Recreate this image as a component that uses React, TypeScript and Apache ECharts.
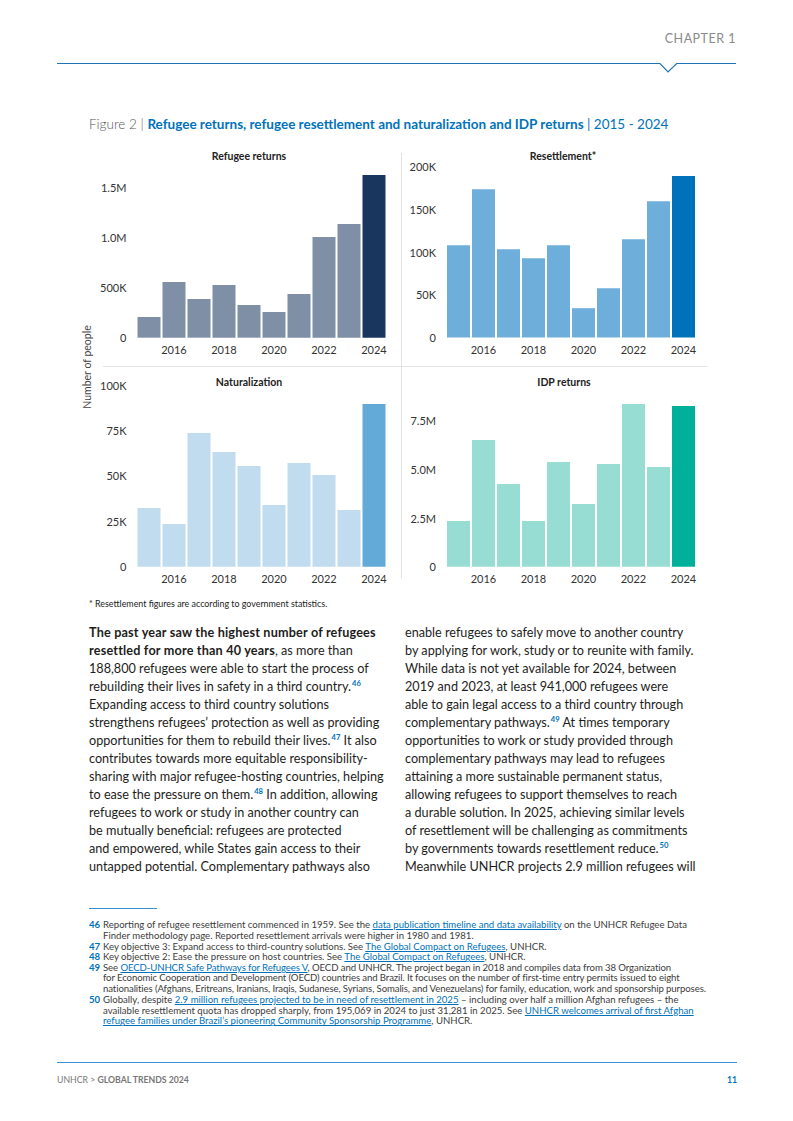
import React, { useEffect, useRef } from "react";
import * as echarts from "echarts";

const years = ["2015", "2016", "2017", "2018", "2019", "2020", "2021", "2022", "2023", "2024"];
const refugeeReturns = [207000, 557000, 387000, 527000, 327000, 257000, 437000, 1007000, 1137000, 1627000];
const resettlement = [108000, 173700, 103400, 92900, 108000, 34300, 57800, 115000, 159600, 189000];
const naturalization = [32300, 23500, 73600, 63100, 55400, 33900, 57100, 50500, 31200, 89500];
const idpReturns = [2350000, 6520000, 4260000, 2350000, 5390000, 3230000, 5280000, 8370000, 5130000, 8270000];

const panelTitles = ["Refugee returns", "Resettlement*", "Naturalization", "IDP returns"];
const panelData = [refugeeReturns, resettlement, naturalization, idpReturns];
const baseColors = ["#7f8fa6", "#6eaedb", "#c0dcee", "#98ddd4"];
const lastColors = ["#18365e", "#0071bb", "#64aad8", "#00b09b"];
const axisMax = [1700000, 200000, 100000, 8750000];
const axisInterval = [500000, 50000, 25000, 2500000];

const FONT = "Lato, 'Noto Sans', sans-serif";

const grids = [
  { left: 136.5, top: 167.7, width: 250, height: 170 },
  { left: 446, top: 166.7, width: 250, height: 170.8 },
  { left: 136.5, top: 385, width: 250, height: 181.7 },
  { left: 446, top: 396.7, width: 250, height: 170 },
];
const titlePos = [
  [249, 156],
  [563, 156],
  [249, 382],
  [564, 382],
];

function fmt(v: number) {
  if (v === 0) return "0";
  if (v >= 1e6) return (v / 1e6).toFixed(1) + "M";
  return Math.round(v / 1e3) + "K";
}

type Seg = string | { b: string } | { sup: string } | { link: string };

const leftLines: Seg[][] = [
  [{ b: "The past year saw the highest number of refugees" }],
  [{ b: "resettled for more than 40 years" }, ", as more than"],
  ["188,800 refugees were able to start the process of"],
  ["rebuilding their lives in safety in a third country.", { sup: "46" }],
  ["Expanding access to third country solutions"],
  ["strengthens refugees\u2019 protection as well as providing"],
  ["opportunities for them to rebuild their lives.", { sup: "47" }, " It also"],
  ["contributes towards more equitable responsibility-"],
  ["sharing with major refugee-hosting countries, helping"],
  ["to ease the pressure on them.", { sup: "48" }, " In addition, allowing"],
  ["refugees to work or study in another country can"],
  ["be mutually beneficial: refugees are protected"],
  ["and empowered, while States gain access to their"],
  ["untapped potential. Complementary pathways also"],
];
const rightLines: Seg[][] = [
  ["enable refugees to safely move to another country"],
  ["by applying for work, study or to reunite with family."],
  ["While data is not yet available for 2024, between"],
  ["2019 and 2023, at least 941,000 refugees were"],
  ["able to gain legal access to a third country through"],
  ["complementary pathways.", { sup: "49" }, " At times temporary"],
  ["opportunities to work or study provided through"],
  ["complementary pathways may lead to refugees"],
  ["attaining a more sustainable permanent status,"],
  ["allowing refugees to support themselves to reach"],
  ["a durable solution. In 2025, achieving similar levels"],
  ["of resettlement will be challenging as commitments"],
  ["by governments towards resettlement reduce.", { sup: "50" }],
  ["Meanwhile UNHCR projects 2.9 million refugees will"],
];

const footnotes: { n: string; spacing: number; lines: Seg[][] }[] = [
  {
    n: "46",
    spacing: 0,
    lines: [
      ["Reporting of refugee resettlement commenced in 1959. See the ", { link: "data publication timeline and data availability" }, " on the UNHCR Refugee Data"],
      ["Finder methodology page. Reported resettlement arrivals were higher in 1980 and 1981."],
    ],
  },
  {
    n: "47",
    spacing: 0,
    lines: [["Key objective 3: Expand access to third-country solutions. See ", { link: "The Global Compact on Refugees" }, ", UNHCR."]],
  },
  {
    n: "48",
    spacing: 0,
    lines: [["Key objective 2: Ease the pressure on host countries. See ", { link: "The Global Compact on Refugees" }, ", UNHCR."]],
  },
  {
    n: "49",
    spacing: -0.1,
    lines: [
      ["See ", { link: "OECD-UNHCR Safe Pathways for Refugees V" }, ", OECD and UNHCR. The project began in 2018 and compiles data from 38 Organization"],
      ["for Economic Cooperation and Development (OECD) countries and Brazil. It focuses on the number of first-time entry permits issued to eight"],
      ["nationalities (Afghans, Eritreans, Iranians, Iraqis, Sudanese, Syrians, Somalis, and Venezuelans) for family, education, work and sponsorship purposes."],
    ],
  },
  {
    n: "50",
    spacing: 0,
    lines: [
      ["Globally, despite ", { link: "2.9 million refugees projected to be in need of resettlement in 2025" }, " \u2013 including over half a million Afghan refugees \u2013 the"],
      ["available resettlement quota has dropped sharply, from 195,069 in 2024 to just 31,281 in 2025. See ", { link: "UNHCR welcomes arrival of first Afghan " }],
      [{ link: "refugee families under Brazil\u2019s pioneering Community Sponsorship Programme" }, ", UNHCR."],
    ],
  },
];
const footnoteTops = [924.3, 946.3, 956.6, 967, 999.3];

function renderSegs(segs: Seg[], supSize: number, supTop: number, boldSpacing = 0) {
  return segs.map((s, i) => {
    if (typeof s === "string") return <span key={i}>{s}</span>;
    if ("b" in s)
      return (
        <b key={i} style={{ fontWeight: 700, letterSpacing: boldSpacing }}>
          {s.b}
        </b>
      );
    if ("sup" in s)
      return (
        <span key={i} style={{ color: "#0072bc", fontWeight: 700, fontSize: supSize, position: "relative", top: supTop, marginLeft: 1 }}>
          {s.sup}
        </span>
      );
    return (
      <span key={i} style={{ color: "#0072bc", textDecoration: "underline" }}>
        {s.link}
      </span>
    );
  });
}

function Chart() {
  const ref = useRef<HTMLDivElement>(null);
  useEffect(() => {
    if (!ref.current) return;
    const chart = echarts.init(ref.current, null, { renderer: "svg" });
    const xAxis: any[] = [];
    const yAxis: any[] = [];
    const series: any[] = [];
    const graphic: any[] = [];
    for (let i = 0; i < 4; i++) {
      xAxis.push({
        type: "category",
        gridIndex: i,
        data: years,
        axisLine: { show: false },
        axisTick: { show: false },
        axisLabel: {
          interval: (idx: number) => idx % 2 === 1,
          color: "#333",
          fontFamily: FONT,
          fontSize: 11,
          margin: 6,
        },
      });
      const intv = axisInterval[i];
      yAxis.push({
        type: "value",
        gridIndex: i,
        min: 0,
        max: axisMax[i],
        interval: intv,
        splitLine: { show: false },
        axisLine: { show: false },
        axisTick: { show: false },
        axisLabel: {
          color: "#333",
          fontFamily: FONT,
          fontSize: 11,
          margin: 10,
          formatter: (v: number) => (Math.abs(v % intv) < 1e-6 ? fmt(v) : ""),
        },
      });
      const data = panelData[i].map((v, k) => ({
        value: v,
        itemStyle: { color: k === panelData[i].length - 1 ? lastColors[i] : baseColors[i] },
      }));
      series.push({
        type: "bar",
        xAxisIndex: i,
        yAxisIndex: i,
        data,
        barCategoryGap: "8%",
      });
      graphic.push({
        type: "text",
        x: titlePos[i][0],
        y: titlePos[i][1],
        style: {
          text: panelTitles[i],
          fill: "#222",
          font: `700 10.5px ${FONT}`,
          textAlign: "center",
          textVerticalAlign: "middle",
        },
      });
    }
    graphic.push(
      { type: "line", shape: { x1: 401.5, y1: 153, x2: 401.5, y2: 578 }, style: { stroke: "#e2e2e2", lineWidth: 1 } },
      { type: "line", shape: { x1: 103, y1: 366.5, x2: 707, y2: 366.5 }, style: { stroke: "#e2e2e2", lineWidth: 1 } },
      {
        type: "text",
        x: 87,
        y: 367,
        rotation: Math.PI / 2,
        style: {
          text: "Number of people",
          fill: "#444",
          font: `400 10.5px ${FONT}`,
          textAlign: "center",
          textVerticalAlign: "middle",
        },
      }
    );
    chart.setOption({
      animation: false,
      grid: grids.map((g) => ({ ...g, containLabel: false })),
      xAxis,
      yAxis,
      series,
      graphic,
    });
    return () => chart.dispose();
  }, []);
  return <div ref={ref} style={{ position: "absolute", left: 0, top: 0, width: 793, height: 600 }} />;
}

export default function App() {
  const bodyStyle: React.CSSProperties = {
    position: "absolute",
    whiteSpace: "nowrap",
    fontFamily: FONT,
    fontSize: 12.65,
    lineHeight: "18px",
    color: "#1d1d1b",
  };
  return (
    <div style={{ position: "absolute", left: 0, top: 0, width: 793, height: 1121, background: "#fff", overflow: "hidden", fontFamily: FONT }}>
      <Chart />
      {/* header */}
      <div style={{ position: "absolute", right: 793 - 736, top: 31, fontSize: 12.5, letterSpacing: 0.5, color: "#8a8a8a", fontFamily: FONT, fontWeight: 400 }}>
        CHAPTER 1
      </div>
      <svg style={{ position: "absolute", left: 0, top: 0 }} width={793} height={90}>
        <polyline points="57,63.5 660,63.5 668,72 676.7,63.5 736,63.5" fill="none" stroke="#1f75b9" strokeWidth={1.2} />
      </svg>
      {/* figure title */}
      <div style={{ position: "absolute", left: 89, top: 115.5, fontSize: 13.5, whiteSpace: "nowrap", fontFamily: FONT }}>
        <span style={{ color: "#555", fontWeight: 300 }}>Figure 2 | </span>
        <span style={{ color: "#0072bc", fontWeight: 700 }}>Refugee returns, refugee resettlement and naturalization and IDP returns</span>
        <span style={{ color: "#0072bc", fontWeight: 400 }}> | 2015 - 2024</span>
      </div>
      {/* chart note */}
      <div style={{ position: "absolute", left: 89, top: 598, fontSize: 8.9, color: "#222", whiteSpace: "nowrap" }}>
        * Resettlement figures are according to government statistics.
      </div>
      {/* body text */}
      {leftLines.map((l, i) => (
        <div key={"l" + i} style={{ ...bodyStyle, left: 89, top: 633.3 - 9 + i * 18 }}>
          {renderSegs(l, 7.6, -5, 0.18)}
        </div>
      ))}
      {rightLines.map((l, i) => (
        <div key={"r" + i} style={{ ...bodyStyle, left: 405, top: 633.3 - 9 + i * 18 }}>
          {renderSegs(l, 7.6, -5, 0.18)}
        </div>
      ))}
      {/* footnotes */}
      <div style={{ position: "absolute", left: 89, top: 908, width: 68, height: 1.3, background: "#3b8fd0" }} />
      {footnotes.map((f, fi) => (
        <React.Fragment key={f.n}>
          <div
            style={{
              position: "absolute",
              left: 89,
              top: footnoteTops[fi] - 5.5,
              fontSize: 9.6,
              lineHeight: "11px",
              color: "#0072bc",
              fontWeight: 700,
            }}
          >
            {f.n}
          </div>
          {f.lines.map((l, li) => (
            <div
              key={li}
              style={{
                position: "absolute",
                left: 103,
                top: footnoteTops[fi] - 5.5 + li * 10.7,
                fontSize: 9.6,
                letterSpacing: f.spacing,
                lineHeight: "11px",
                color: "#3c3c3b",
                whiteSpace: "nowrap",
              }}
            >
              {renderSegs(l, 6, -3)}
            </div>
          ))}
        </React.Fragment>
      ))}
      {/* footer */}
      <div style={{ position: "absolute", left: 57, top: 1062, width: 680, height: 1, background: "#3b8fd0" }} />
      <div style={{ position: "absolute", left: 57, top: 1073.5, fontSize: 8.7, color: "#777", whiteSpace: "nowrap" }}>
        UNHCR &gt; <b style={{ fontWeight: 700 }}>GLOBAL TRENDS 2024</b>
      </div>
      <div style={{ position: "absolute", right: 793 - 737, top: 1073.5, fontSize: 8.7, color: "#0072bc", fontWeight: 700 }}>11</div>
    </div>
  );
}
